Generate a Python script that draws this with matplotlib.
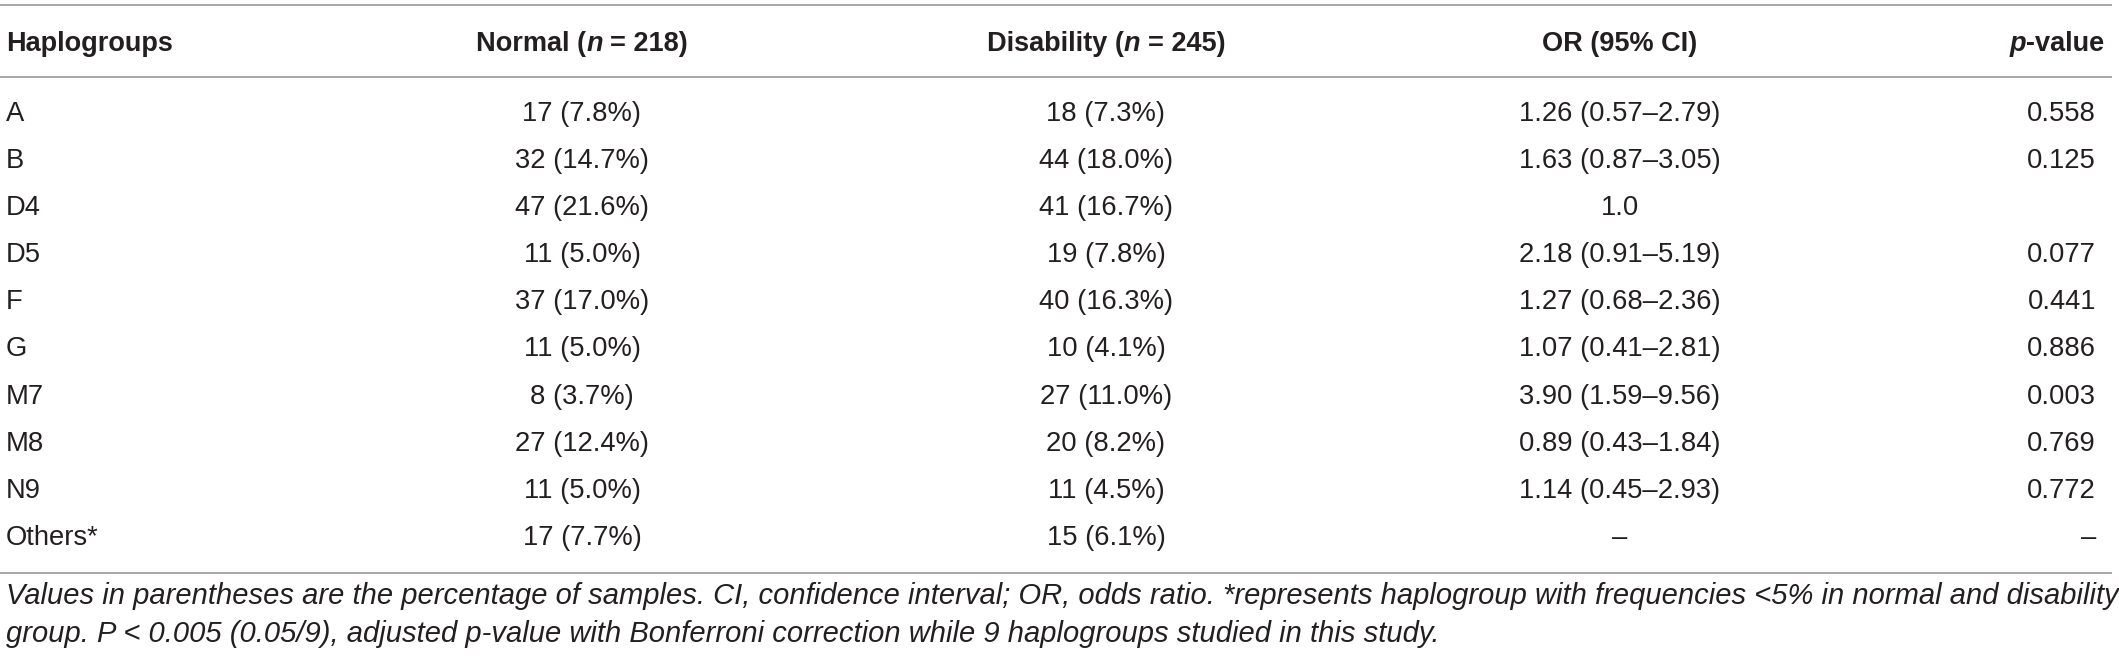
"""Haplogroup frequency table: normal vs. disability group."""

import matplotlib.pyplot as plt

W, H = 2119, 660
DPI = 100
TEXT_COLOR = "#231f20"
RULE_COLOR = "#a8a8a8"
FONT = "Liberation Sans"

haplogroups = ["A", "B", "D4", "D5", "F", "G", "M7", "M8", "N9", "Others*"]
normal_n = [17, 32, 47, 11, 37, 11, 8, 27, 11, 17]
normal_pct = [7.8, 14.7, 21.6, 5.0, 17.0, 5.0, 3.7, 12.4, 5.0, 7.7]
disability_n = [18, 44, 41, 19, 40, 10, 27, 20, 11, 15]
disability_pct = [7.3, 18.0, 16.7, 7.8, 16.3, 4.1, 11.0, 8.2, 4.5, 6.1]
odds_ratio = [1.26, 1.63, 1.0, 2.18, 1.27, 1.07, 3.90, 0.89, 1.14, None]
ci_low = [0.57, 0.87, None, 0.91, 0.68, 0.41, 1.59, 0.43, 0.45, None]
ci_high = [2.79, 3.05, None, 5.19, 2.36, 2.81, 9.56, 1.84, 2.93, None]
p_values = ["0.558", "0.125", "", "0.077", "0.441", "0.886", "0.003", "0.769", "0.772", "–"]

footnote = [
    "Values in parentheses are the percentage of samples. CI, confidence interval; OR, odds ratio. "
    "*represents haplogroup with frequencies <5% in normal and disability",
    "group. P < 0.005 (0.05/9), adjusted p-value with Bonferroni correction while 9 haplogroups studied in this study.",
]

fig = plt.figure(figsize=(W / DPI, H / DPI), dpi=DPI)
ax = fig.add_axes([0, 0, 1, 1])
ax.set_xlim(0, W)
ax.set_ylim(H, 0)
ax.axis("off")
renderer = fig.canvas.get_renderer()

BODY = 19.7
HEAD = 19.5


def text_width(s, **kw):
    t = ax.text(0, 0, s, fontfamily=FONT, **kw)
    w = t.get_window_extent(renderer).width
    t.remove()
    return w


def draw_segments(x, y, segments, size, ha="left"):
    """Draw consecutive text pieces with mixed styles on one baseline."""
    space = text_width("a a", fontsize=size, fontweight="bold") - text_width("aa", fontsize=size, fontweight="bold")
    widths = []
    for s, style in segments:
        widths.append(text_width(s.strip(), fontsize=size, fontweight="bold", fontstyle=style))
    total = 0.0
    gaps = []
    for s, w in zip([s for s, _ in segments], widths):
        lead = space if s.startswith(" ") else 0.0
        trail = space if s.endswith(" ") else 0.0
        gaps.append((lead, trail))
        total += lead + w + trail
    if ha == "center":
        x0 = x - total / 2
    elif ha == "right":
        x0 = x - total
    else:
        x0 = x
    for (s, style), w, (lead, trail) in zip(segments, widths, gaps):
        x0 += lead
        ax.text(x0, y, s.strip(), fontfamily=FONT, fontsize=size, fontweight="bold",
                fontstyle=style, color=TEXT_COLOR, ha="left", va="center")
        x0 += w + trail


# column anchors
x_hap, x_norm, x_dis, x_or, x_p = 6, 582, 1106, 1620, 2102
y_head = 44
y_rows = [114 + 47.1 * i for i in range(len(haplogroups))]

# rules
for y in (5, 77, 573):
    ax.hlines(y, 0, 2112, color=RULE_COLOR, linewidth=1.4)

# header
draw_segments(x_hap, y_head, [("Haplogroups", "normal")], HEAD)
draw_segments(x_norm, y_head, [("Normal (", "normal"), ("n", "italic"), (" = 218)", "normal")], HEAD, "center")
draw_segments(x_dis, y_head, [("Disability (", "normal"), ("n", "italic"), (" = 245)", "normal")], HEAD, "center")
draw_segments(x_or, y_head, [("OR (95% CI)", "normal")], HEAD, "center")
draw_segments(x_p + 2, y_head, [("p", "italic"), ("-value", "normal")], HEAD, "right")

# body
body_kw = dict(fontfamily=FONT, fontsize=BODY, color=TEXT_COLOR, va="center")
for i, y in enumerate(y_rows):
    ax.text(x_hap, y, haplogroups[i], ha="left", **body_kw)
    ax.text(x_norm, y, f"{normal_n[i]} ({normal_pct[i]:.1f}%)", ha="center", **body_kw)
    ax.text(x_dis, y, f"{disability_n[i]} ({disability_pct[i]:.1f}%)", ha="center", **body_kw)
    if odds_ratio[i] is None:
        or_label = "–"
    elif ci_low[i] is None:
        or_label = f"{odds_ratio[i]:.1f}"
    else:
        or_label = f"{odds_ratio[i]:.2f} ({ci_low[i]:.2f}–{ci_high[i]:.2f})"
    ax.text(x_or, y, or_label, ha="center", **body_kw)
    if p_values[i]:
        ax.text(x_p - 6 if p_values[i] == "–" else x_p - 6, y, p_values[i], ha="right", **body_kw)

# footnote, sized so the first line fills the table width
base = 16
w1 = text_width(footnote[0], fontsize=base, fontstyle="italic")
foot_size = base * (2104 / w1)
for line, y in zip(footnote, (596, 634)):
    ax.text(x_hap, y, line, fontfamily=FONT, fontsize=foot_size, fontstyle="italic",
            color=TEXT_COLOR, ha="left", va="center")

fig.savefig("out.png", dpi=DPI)
plt.close(fig)
